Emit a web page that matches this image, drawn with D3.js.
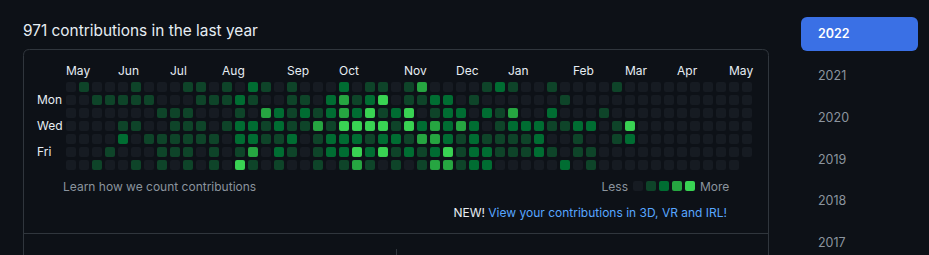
<!DOCTYPE html>
<html>
<head>
<meta charset="utf-8">
<script src="https://cdn.jsdelivr.net/npm/d3@7"></script>
<style>
  html, body { margin: 0; padding: 0; background: #0d1117; }
  svg { display: block; }
  text { font-family: Inter, "Noto Sans", "Liberation Sans", sans-serif; }
</style>
</head>
<body>
<svg id="chart" width="929" height="255"></svg>
<script>
// ---- data ----
const title = "971 contributions in the last year";
const dayLabels = ["", "Mon", "", "Wed", "", "Fri", ""];
const monthLabels = ["May","Jun","Jul","Aug","Sep","Oct","Nov","Dec","Jan","Feb","Mar","Apr","May"];
const monthStartWeek = [0, 4, 8, 12, 17, 21, 26, 30, 34, 39, 43, 47, 51];
const years = ["2022","2021","2020","2019","2018","2017"];
const levelColors = ["#161b22", "#0e4429", "#006d32", "#26a641", "#39d353"];
// contribution level (0-4) per weekday row, one value per week (53 weeks)
const sun = [0,1,0,0,0,1,0,0,0,1,1, 0,1,0,2,1,0,1,0,0,0,2, 0,1,1,0,1,3,0,0,0,0,1, 2,1,0,0,1,0,0,0,0,1,0, 0,0,0,0,0,0,0,0,0];
const mon = [0,0,1,1,1,1,1,0,0,0,1, 1,1,2,1,0,0,1,1,0,2,3, 1,2,4,0,1,1,2,2,0,1,0, 0,0,0,0,0,1,0,0,0,0,0, 0,0,0,0,0,0,0,0,0];
const tue = [0,0,0,0,0,0,0,1,1,1,0, 0,0,1,0,3,2,1,2,1,2,3, 2,4,1,2,4,0,1,2,2,0,2, 1,3,0,0,2,0,0,0,1,0,0, 0,0,0,0,0,0,0,0,0];
const wed = [0,0,0,0,1,1,0,0,1,1,1, 0,1,2,2,1,2,1,1,3,1,4, 4,4,4,1,4,2,3,2,3,2,0, 1,2,2,2,1,1,2,2,0,1,4, 0,0,0,0,0,0,0,0,0];
const thu = [0,0,0,0,2,0,1,1,1,1,1, 1,0,2,2,1,1,2,0,1,2,2, 2,1,2,2,1,3,3,2,1,2,1, 1,1,1,2,0,0,1,0,0,1,2, 0,0,0,0,0,0,0,0,0];
const fri = [0,0,0,1,0,0,0,1,1,1,0, 1,0,1,3,0,2,1,0,1,2,2, 4,2,4,1,2,1,2,4,1,2,2, 1,1,1,2,1,0,1,1,0,0,0, 0,0,0,0,0,0,0,0,0];
const sat = [0,0,1,0,0,1,0,1,0,1,0, 1,0,4,1,0,1,0,0,1,0,1, 3,1,0,1,0,1,3,3,1,2,2, 0,0,0,0,0,2,0,1,0,0,0, 0,0,0,0,0,0,0,0];
const rows = [sun, mon, tue, wed, thu, fri, sat];

// ---- drawing ----
const svg = d3.select("#chart");
const nWeeks = 53;
const x = d3.scaleLinear().domain([0, nWeeks]).range([66, 66 + nWeeks * 13]);
const y = d3.scaleLinear().domain([0, 7]).range([82, 82 + 7 * 13]);
const cell = 10;
const color = d3.scaleOrdinal().domain([0,1,2,3,4]).range(levelColors);

// title
svg.append("text").attr("x", 23).attr("y", 36)
  .attr("fill", "#e6edf3").attr("font-size", 15.4).text(title);

// box borders
const border = "#30363d";
svg.append("path")
  .attr("d", "M23.5,262 L23.5,55.5 Q23.5,49.5 29.5,49.5 L762.5,49.5 Q768.5,49.5 768.5,55.5 L768.5,262")
  .attr("fill", "none").attr("stroke", border);
svg.append("line").attr("x1", 23.5).attr("x2", 768.5).attr("y1", 233.5).attr("y2", 233.5).attr("stroke", border);
svg.append("line").attr("x1", 396.5).attr("x2", 396.5).attr("y1", 249).attr("y2", 262).attr("stroke", border);

// month labels
svg.append("g").selectAll("text").data(monthLabels).join("text")
  .attr("x", (d, i) => x(monthStartWeek[i]))
  .attr("y", 75)
  .attr("fill", "#e6edf3").attr("font-size", 12)
  .text(d => d);

// day labels
svg.append("g").selectAll("text").data(dayLabels).join("text")
  .attr("x", 37)
  .attr("y", (d, i) => y(i) + cell / 2)
  .attr("dy", "0.35em")
  .attr("fill", "#e6edf3").attr("font-size", 12)
  .text(d => d);

// cells
const cells = [];
rows.forEach((r, day) => r.forEach((v, w) => cells.push({ day, week: w, level: v })));
svg.append("g").selectAll("rect").data(cells).join("rect")
  .attr("x", d => x(d.week))
  .attr("y", d => y(d.day))
  .attr("width", cell).attr("height", cell)
  .attr("rx", 2).attr("ry", 2)
  .attr("fill", d => color(d.level))
  .attr("stroke", "rgba(27,31,35,0.06)");

// footer
svg.append("text").attr("x", 63).attr("y", 191)
  .attr("fill", "#8b949e").attr("font-size", 12)
  .text("Learn how we count contributions");

const legend = svg.append("g");
legend.append("text").attr("x", 628).attr("y", 191).attr("text-anchor", "end")
  .attr("fill", "#8b949e").attr("font-size", 12).text("Less");
legend.selectAll("rect").data(levelColors).join("rect")
  .attr("x", (d, i) => 633 + i * 13).attr("y", 181)
  .attr("width", cell).attr("height", cell).attr("rx", 2)
  .attr("fill", d => d);
legend.append("text").attr("x", 700).attr("y", 191)
  .attr("fill", "#8b949e").attr("font-size", 12).text("More");

const newLine = svg.append("text").attr("x", 727).attr("y", 217).attr("text-anchor", "end")
  .attr("font-size", 12);
newLine.append("tspan").attr("fill", "#e6edf3").text("NEW! ");
newLine.append("tspan").attr("fill", "#58a6ff").text("View your contributions in 3D, VR and IRL!");

// year selector
const yearY = d3.scaleLinear().domain([0, 5]).range([33.5, 243]);
svg.append("rect").attr("x", 801).attr("y", 17).attr("width", 117).attr("height", 34)
  .attr("rx", 6).attr("fill", "#3a70e5");
svg.append("g").selectAll("text").data(years).join("text")
  .attr("x", 818)
  .attr("y", (d, i) => yearY(i))
  .attr("dy", "0.35em")
  .attr("font-size", 12.5)
  .attr("font-weight", (d, i) => i === 0 ? 600 : 400)
  .attr("fill", (d, i) => i === 0 ? "#ffffff" : "#8b949e")
  .text(d => d);
</script>
</body>
</html>
